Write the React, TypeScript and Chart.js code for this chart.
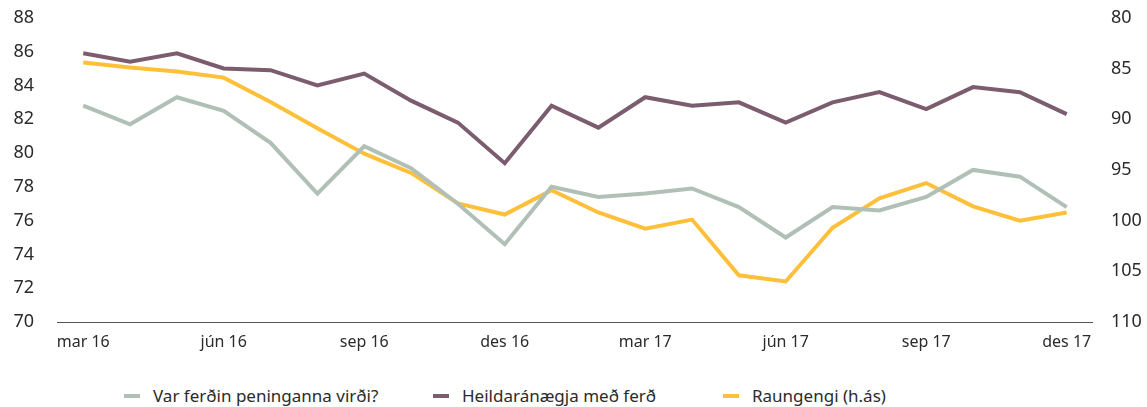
import React, { useEffect, useRef } from "react";
import { Chart, registerables } from "chart.js";

Chart.register(...registerables);

const months = [
  "mar 16", "apr 16", "maí 16", "jún 16", "júl 16", "ágú 16", "sep 16", "okt 16", "nóv 16", "des 16",
  "jan 17", "feb 17", "mar 17", "apr 17", "maí 17", "jún 17", "júl 17", "ágú 17", "sep 17", "okt 17", "nóv 17", "des 17",
];

const virdi = [82.8, 81.7, 83.3, 82.5, 80.6, 77.6, 80.4, 79.1, 77.0, 74.6, 78.0, 77.4, 77.6, 77.9, 76.8, 75.0, 76.8, 76.6, 77.4, 79.0, 78.6, 76.8];
const heild = [85.9, 85.4, 85.9, 85.0, 84.9, 84.0, 84.7, 83.1, 81.8, 79.4, 82.8, 81.5, 83.3, 82.8, 83.0, 81.8, 83.0, 83.6, 82.6, 83.9, 83.6, 82.3];
const raungengi = [84.4, 84.9, 85.3, 85.9, 88.3, 90.9, 93.4, 95.3, 98.3, 99.4, 97.0, 99.2, 100.8, 99.9, 105.4, 106.0, 100.7, 97.8, 96.3, 98.6, 100.0, 99.2];

const xTickIdx = [0, 3, 6, 9, 12, 15, 18, 21];
const leftTicks = [70, 72, 74, 76, 78, 80, 82, 84, 86, 88];
const rightTicks = [80, 85, 90, 95, 100, 105, 110];

const seriesNames = ["Var ferðin peninganna virði?", "Heildaránægja með ferð", "Raungengi (h.ás)"];
const colors = ["#b1c0b7", "#7b5d6f", "#fec03a"];

const AXIS_FONT = "'Noto Sans', 'Open Sans', sans-serif";
const TEXT = "#2b2b2b";

const toPts = (arr: number[]) => arr.map((v, i) => ({ x: i, y: v }));

export default function App() {
  const ref = useRef<HTMLCanvasElement | null>(null);

  useEffect(() => {
    document.body.style.margin = "0";
    const ctx = ref.current!;
    const chart = new Chart(ctx, {
      type: "line",
      data: {
        datasets: [
          { label: seriesNames[0], data: toPts(virdi), borderColor: colors[0], backgroundColor: colors[0], yAxisID: "y", borderWidth: 4, pointRadius: 0, tension: 0 },
          { label: seriesNames[1], data: toPts(heild), borderColor: colors[1], backgroundColor: colors[1], yAxisID: "y", borderWidth: 4, pointRadius: 0, tension: 0 },
          { label: seriesNames[2], data: toPts(raungengi), borderColor: colors[2], backgroundColor: colors[2], yAxisID: "y1", borderWidth: 4, pointRadius: 0, tension: 0 },
        ],
      },
      options: {
        animation: false,
        responsive: false,
        maintainAspectRatio: false,
        layout: { padding: { top: 4, bottom: 0, left: 0, right: 0 } },
        plugins: { legend: { display: false }, tooltip: { enabled: false } },
        scales: {
          x: {
            type: "linear",
            min: -0.56,
            max: 21.54,
            grid: { display: false, drawTicks: false },
            border: { display: true, color: "#555555", width: 1 },
            afterBuildTicks: (s: any) => { s.ticks = xTickIdx.map((v) => ({ value: v })); },
            ticks: {
              autoSkip: false,
              maxRotation: 0,
              padding: 11,
              color: TEXT,
              font: { family: AXIS_FONT, size: 16 },
              callback: (v: any) => months[Number(v)] ?? "",
            },
            afterFit: (s: any) => { s.height = 38; },
          },
          y: {
            position: "left",
            min: 70,
            max: 88,
            grid: { display: false, drawTicks: false },
            border: { display: false },
            afterBuildTicks: (s: any) => { s.ticks = leftTicks.map((v) => ({ value: v })); },
            ticks: { padding: 23, color: TEXT, font: { family: AXIS_FONT, size: 18 } },
            afterFit: (s: any) => { s.width = 57; },
          },
          y1: {
            position: "right",
            reverse: true,
            min: 80,
            max: 110,
            grid: { display: false, drawTicks: false },
            border: { display: false },
            afterBuildTicks: (s: any) => { s.ticks = rightTicks.map((v) => ({ value: v })); },
            ticks: { padding: 19, color: TEXT, font: { family: AXIS_FONT, size: 18 } },
            afterFit: (s: any) => { s.width = 55; },
          },
        },
      },
    });
    return () => chart.destroy();
  }, []);

  const legendX = [124, 433, 723];

  return (
    <div style={{ position: "relative", width: 1147, height: 407, background: "#fff", fontFamily: AXIS_FONT, overflow: "hidden" }}>
      <canvas ref={ref} width={1147} height={376} style={{ display: "block", width: 1147, height: 376, marginTop: -16 }} />
      {seriesNames.map((n, i) => (
        <div key={n} style={{ position: "absolute", left: legendX[i], top: 383, height: 24, display: "flex", alignItems: "center", color: TEXT, fontSize: 17, whiteSpace: "nowrap" }}>
          <span style={{ display: "inline-block", width: 16, height: 4, background: colors[i], marginRight: 13, marginTop: 2 }} />
          <span>{n}</span>
        </div>
      ))}
    </div>
  );
}
